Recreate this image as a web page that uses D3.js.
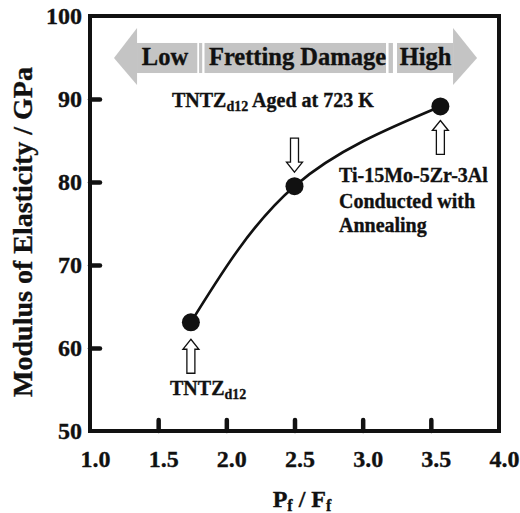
<!DOCTYPE html>
<html>
<head>
<meta charset="utf-8">
<script src="https://cdn.jsdelivr.net/npm/d3@7"></script>
<style>
  body { margin: 0; background: #fff; }
  svg text { font-family: "Liberation Serif", "Times New Roman", serif; font-weight: bold; fill: #111; stroke: #111; stroke-width: 0.35px; }
</style>
</head>
<body>
<div id="app"></div>
<script>
// data
const ratio = [1.74, 2.5, 3.57];          // Pf / Ff
const modulus = [63.1, 79.5, 89.1];       // GPa
const xTickVals = [1.0, 1.5, 2.0, 2.5, 3.0, 3.5, 4.0];
const yTickVals = [50, 60, 70, 80, 90, 100];

// banner (fretting damage arrow), in data units
const bandLabels = ['Low', 'Fretting Damage', 'High'];
const bandLabelX = [1.55, 2.522, 3.461];
const bandSegs = [[1.345, 1.787], [1.80, 1.823], [1.84, 3.171], [3.19, 3.222], [3.252, 3.663]];

const width = 520, height = 513;
const x = d3.scaleLinear().domain([1, 4]).range([90, 499]);
const y = d3.scaleLinear().domain([50, 100]).range([431, 16]);

const svg = d3.select('#app').append('svg')
  .attr('width', width)
  .attr('height', height);

// ---- banner
const bandTop = y(96.75), bandBot = y(93.13), headTop = y(98.55), headBot = y(91.69);
const bandMid = (bandTop + bandBot) / 2;
const gray = '#c4c4c4';

svg.append('path')
  .attr('d', `M${x(1.176)},${bandMid} L${x(1.345)},${headTop} L${x(1.345)},${headBot} Z`)
  .attr('fill', gray);
svg.append('path')
  .attr('d', `M${x(3.839)},${bandMid} L${x(3.663)},${headTop} L${x(3.663)},${headBot} Z`)
  .attr('fill', gray);
svg.selectAll('rect.seg')
  .data(bandSegs)
  .enter().append('rect')
  .attr('class', 'seg')
  .attr('x', d => x(d[0]))
  .attr('width', d => x(d[1]) - x(d[0]))
  .attr('y', bandTop)
  .attr('height', bandBot - bandTop)
  .attr('fill', gray);

svg.selectAll('text.band')
  .data(bandLabels)
  .enter().append('text')
  .attr('class', 'band')
  .attr('x', (d, i) => x(bandLabelX[i]))
  .attr('y', y(94.1))
  .attr('text-anchor', 'middle')
  .style('font-size', '24.5px')
  .text(d => d);

// ---- axes
const xAxis = d3.axisBottom(x).tickValues(xTickVals).tickFormat(d3.format('.1f'))
  .tickSizeInner(-11).tickSizeOuter(0).tickPadding(19);
const yAxis = d3.axisLeft(y).tickValues(yTickVals).tickFormat(d3.format('d'))
  .tickSizeInner(-10).tickSizeOuter(0).tickPadding(8);

const gx = svg.append('g').attr('transform', `translate(0,${y(50)})`).call(xAxis);
const gy = svg.append('g').attr('transform', `translate(${x(1)},0)`).call(yAxis);

[gx, gy].forEach(g => {
  g.select('.domain').remove();
  g.selectAll('.tick line')
    .attr('stroke', '#111')
    .attr('stroke-width', 4.5)
    .attr('stroke-linecap', 'round')
    .filter((d, i, n) => i === 0 || i === n.length - 1).remove();
  g.selectAll('.tick text')
    .attr('fill', '#111')
    .style('font-size', '24px')
    .style('font-family', '"Liberation Serif", "Times New Roman", serif');
});
gx.selectAll('.tick text').attr('dx', 5);

svg.append('rect')
  .attr('x', x(1)).attr('y', y(100))
  .attr('width', x(4) - x(1)).attr('height', y(50) - y(100))
  .attr('fill', 'none')
  .attr('stroke', '#111')
  .attr('stroke-width', 4);

// ---- axis titles
svg.append('text')
  .attr('transform', 'translate(32,232) rotate(-90)')
  .attr('text-anchor', 'middle')
  .style('font-size', '28px')
  .text('Modulus of Elasticity / GPa');

const xTitle = svg.append('text')
  .attr('x', 302).attr('y', 507)
  .attr('text-anchor', 'middle')
  .style('font-size', '24px');
xTitle.append('tspan').text('P');
xTitle.append('tspan').attr('dy', 4).style('font-size', '16px').text('f');
xTitle.append('tspan').attr('dy', -4).text(' / F');
xTitle.append('tspan').attr('dy', 4).style('font-size', '16px').text('f');

// ---- curve + points
const pts = ratio.map((r, i) => [r, modulus[i]]);
const line = d3.line().x(d => x(d[0])).y(d => y(d[1])).curve(d3.curveNatural);

svg.append('path')
  .datum(pts)
  .attr('d', line)
  .attr('fill', 'none')
  .attr('stroke', '#111')
  .attr('stroke-width', 2.6);

svg.selectAll('circle.pt')
  .data(pts)
  .enter().append('circle')
  .attr('class', 'pt')
  .attr('cx', d => x(d[0]))
  .attr('cy', d => y(d[1]))
  .attr('r', 9)
  .attr('fill', '#111');

// ---- hollow pointer arrows: dir 1 = points up (sits below), -1 = points down (sits above)
const arrowDir = [1, -1, 1];
const arrowGap = [17, 14, 14];
function arrowPath(cx, tipY, dir) {
  const hl = 10, hw = 8, sw = 4, len = 34;
  const b = tipY + dir * hl, e = tipY + dir * len;
  return `M${cx},${tipY} L${cx + hw},${b} L${cx + sw},${b} L${cx + sw},${e} L${cx - sw},${e} L${cx - sw},${b} L${cx - hw},${b} Z`;
}
svg.selectAll('path.ptr')
  .data(pts)
  .enter().append('path')
  .attr('class', 'ptr')
  .attr('d', (d, i) => arrowPath(x(d[0]), y(d[1]) + arrowDir[i] * arrowGap[i], arrowDir[i]))
  .attr('fill', '#fff')
  .attr('stroke', '#111')
  .attr('stroke-width', 1.3);

// ---- annotations
function sampleLabel(tx, ty, main, sub, rest) {
  const t = svg.append('text').attr('x', x(tx)).attr('y', y(ty)).style('font-size', '20px');
  t.append('tspan').text(main);
  t.append('tspan').attr('dy', 4).style('font-size', '14px').text(sub);
  if (rest) t.append('tspan').attr('dy', -4).text(rest);
}
sampleLabel(1.601, 89.04, 'TNTZ', 'd12', ' Aged at 723 K');
sampleLabel(1.587, 54.34, 'TNTZ', 'd12', null);

const tiLines = ['Ti-15Mo-5Zr-3Al', 'Conducted with', 'Annealing'];
const tiY = [80.0, 76.9, 74.0];
svg.selectAll('text.ti')
  .data(tiLines)
  .enter().append('text')
  .attr('class', 'ti')
  .attr('x', x(2.826))
  .attr('y', (d, i) => y(tiY[i]))
  .style('font-size', '20px')
  .text(d => d);
</script>
</body>
</html>
